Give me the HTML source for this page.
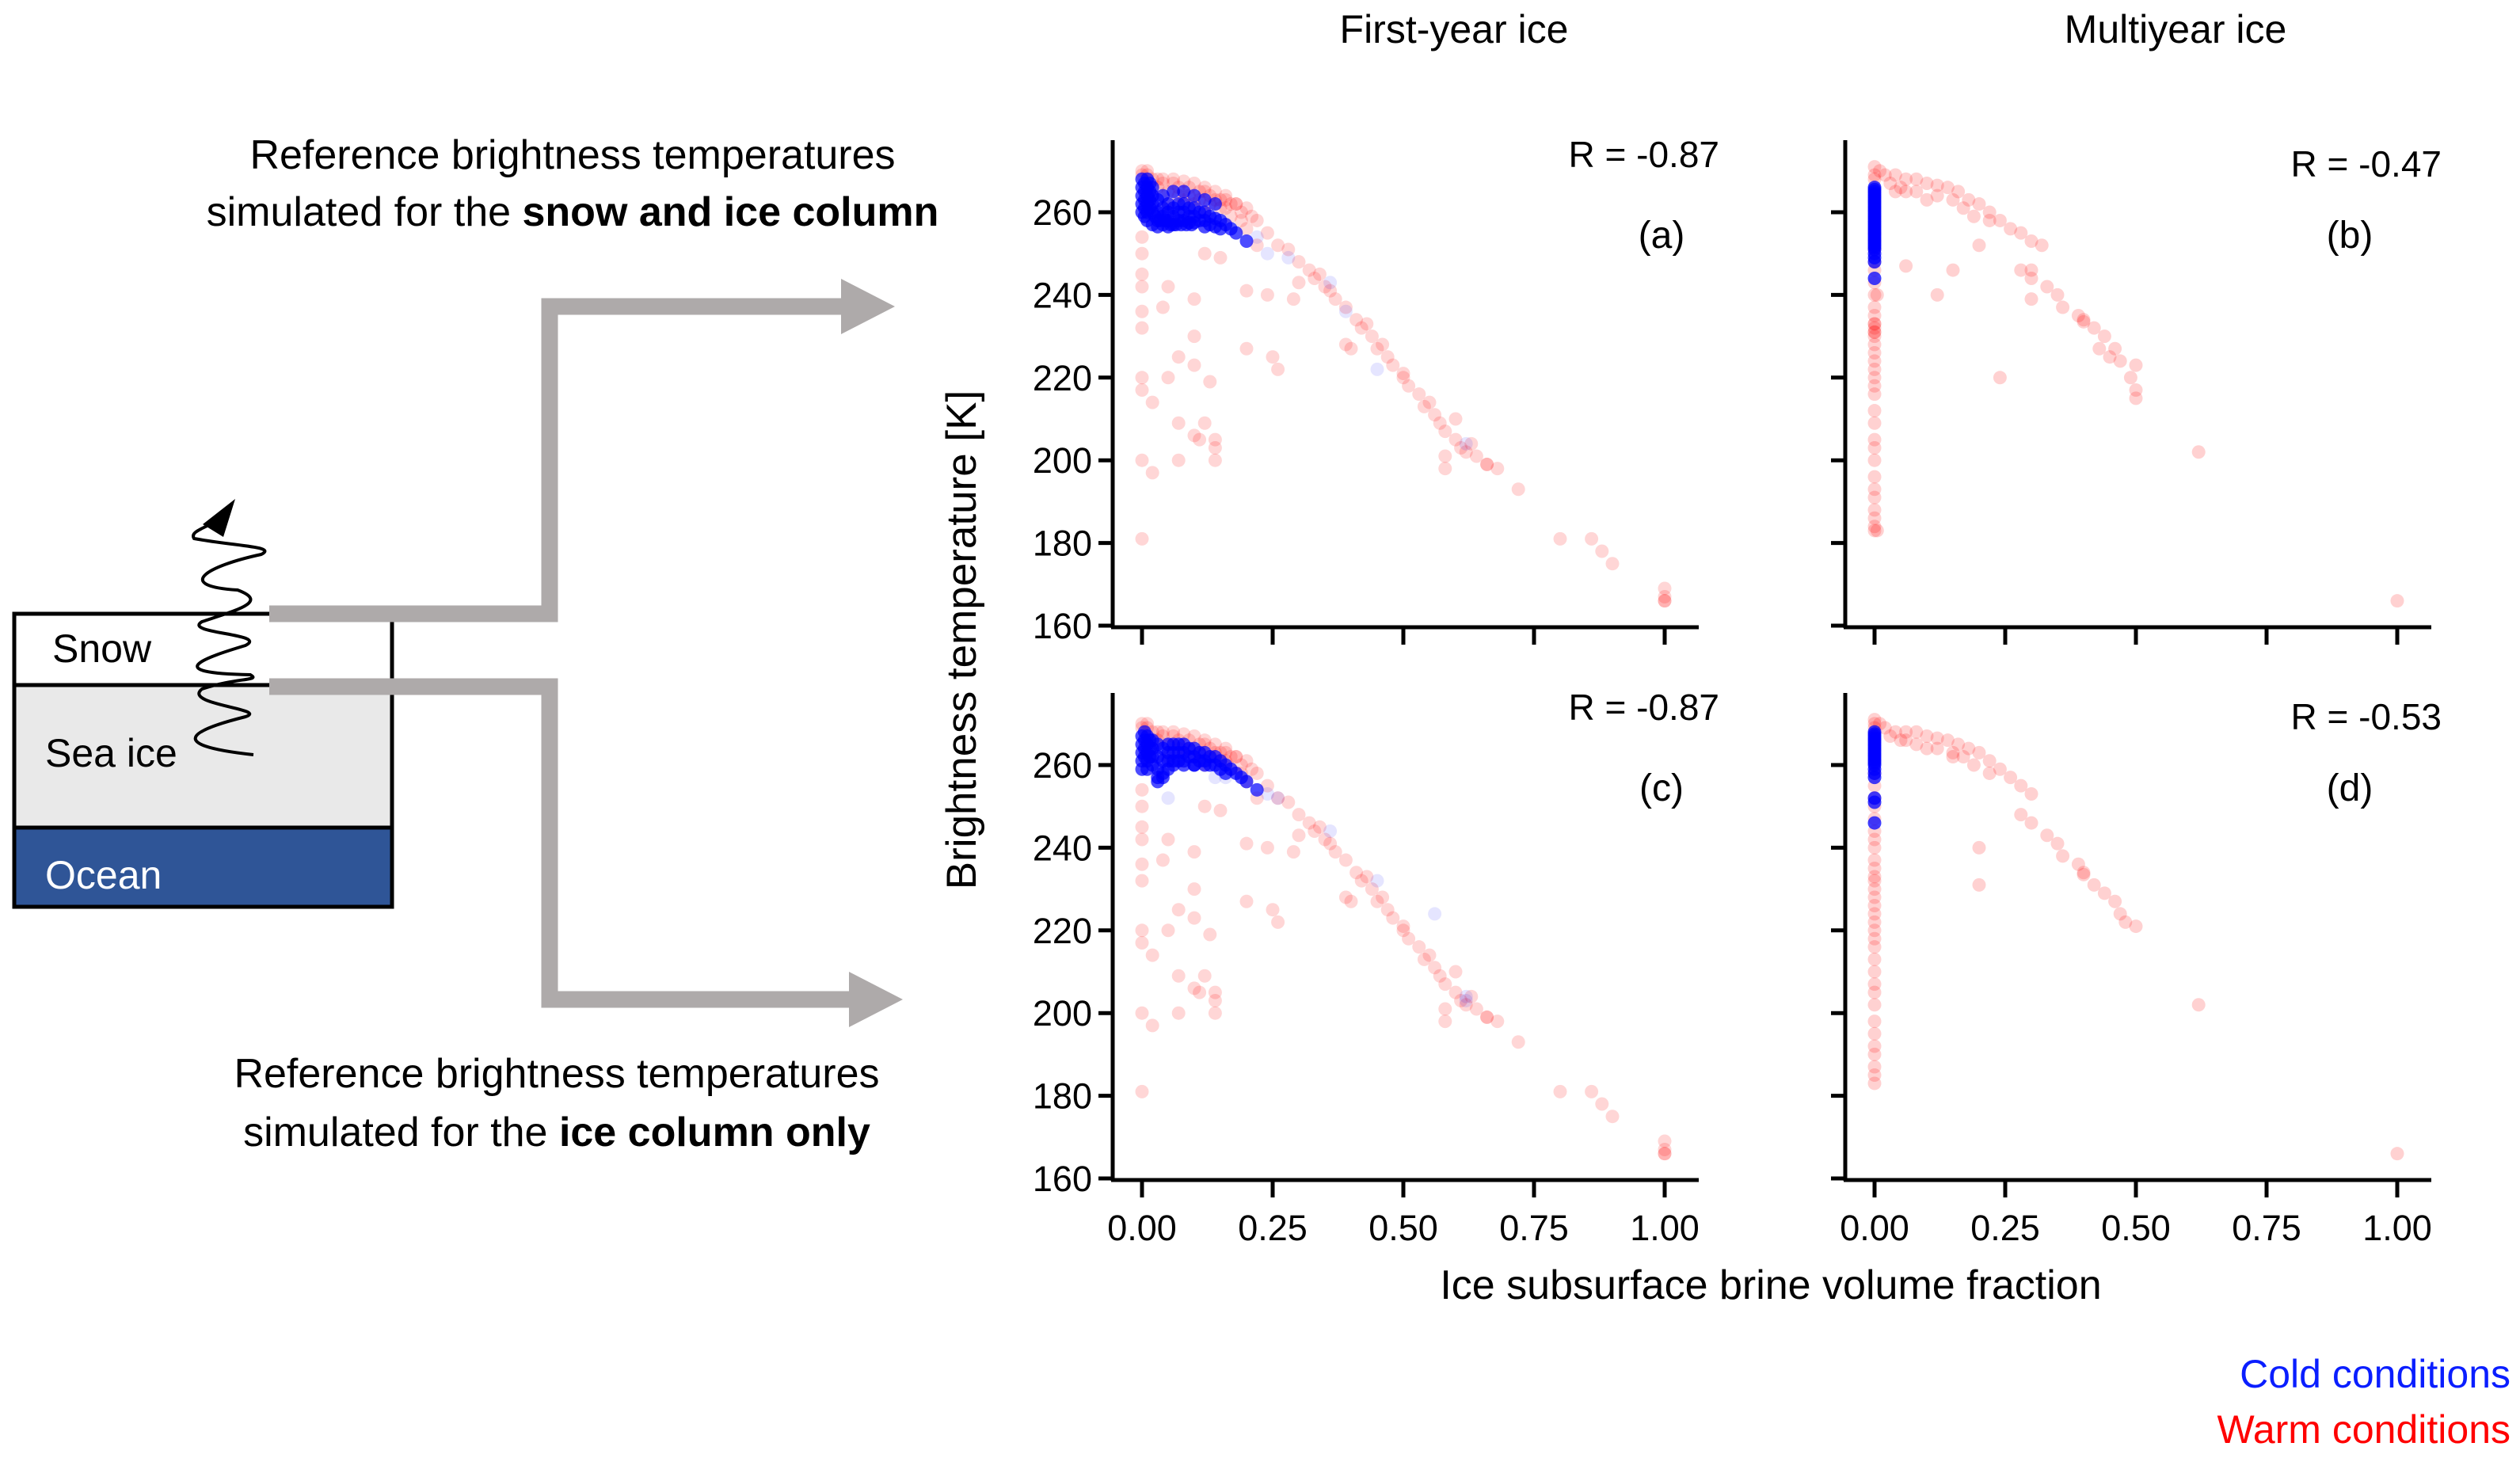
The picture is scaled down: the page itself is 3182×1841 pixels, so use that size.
<!DOCTYPE html>
<html><head><meta charset="utf-8"><style>
html,body{margin:0;padding:0;background:#fff;}
svg{display:block;font-family:"Liberation Sans",sans-serif;}
</style></head><body>
<svg id="fig" width="3182" height="1841" viewBox="0 0 3182 1841" xmlns="http://www.w3.org/2000/svg">
<g>
  <rect x="18" y="775" width="477" height="90" fill="#fff" stroke="#000" stroke-width="5"/>
  <rect x="18" y="865" width="477" height="180" fill="#e9e9e9" stroke="#000" stroke-width="5"/>
  <rect x="18" y="1045" width="477" height="100" fill="#2f5597" stroke="#000" stroke-width="5"/>
  <text x="66" y="836" font-size="50">Snow</text>
  <text x="57" y="968" font-size="50">Sea ice</text>
  <text x="57" y="1122" font-size="50" fill="#fff">Ocean</text>
  <path d="M320 953 C 200 940, 250 920, 310 905 C 340 895, 230 890, 255 870 C 300 855, 330 860, 316 852 C 200 850, 260 830, 310 815 C 340 800, 230 800, 255 785 C 300 770, 340 760, 300 745 C 220 740, 260 715, 330 700 C 350 690, 300 690, 245 680 C 240 672, 255 668, 265 662" fill="none" stroke="#000" stroke-width="4"/>
  <polygon points="297,630 282,678 256,662" fill="#000"/>
  <polyline points="340,775 694,775 694,387 1068,387" fill="none" stroke="#aeaaaa" stroke-width="21"/>
  <polygon points="1062,352 1130,387 1062,422" fill="#aeaaaa"/>
  <polyline points="340,867 694,867 694,1262 1078,1262" fill="none" stroke="#aeaaaa" stroke-width="21"/>
  <polygon points="1072,1227 1140,1262 1072,1297" fill="#aeaaaa"/>
  <text x="723" y="213" font-size="52" text-anchor="middle">Reference brightness temperatures</text>
  <text x="723" y="285" font-size="52" text-anchor="middle">simulated  for the <tspan font-weight="bold">snow and ice column</tspan></text>
  <text x="703" y="1373" font-size="52" text-anchor="middle">Reference brightness temperatures</text>
  <text x="703" y="1447" font-size="52" text-anchor="middle">simulated for the <tspan font-weight="bold">ice column only</tspan></text>
</g>
<text x="1836" y="54" font-size="50" text-anchor="middle">First-year ice</text>
<text x="2747" y="54" font-size="50" text-anchor="middle">Multiyear ice</text>
<text transform="translate(1232,808) rotate(-90)" font-size="53" text-anchor="middle">Brightness temperature [K]</text>
<text x="2236" y="1640" font-size="52" text-anchor="middle">Ice subsurface brine volume fraction</text>
<text x="3170" y="1752" font-size="50" text-anchor="end" fill="#0a1eff">Cold conditions</text>
<text x="3170" y="1822" font-size="50" text-anchor="end" fill="#ff0000">Warm conditions</text>
<g id="panels"></g>
</svg>
<script>
const yTicks = [160, 180, 200, 220, 240, 260];
const xTicks = [0, 0.25, 0.5, 0.75, 1.0];
const xTickLabels = ["0.00", "0.25", "0.50", "0.75", "1.00"];
const panelLetters = ["(a)", "(b)", "(c)", "(d)"];
const panelR = ["R = -0.87", "R = -0.47", "R = -0.87", "R = -0.53"];

const fyWarmX = [0,0.01,0.02,0.04,0.06,0.08,0.1,0.12,0.14,0.16,0.18,0.2,0.22,0.05,0.07,0.09,0.11,0.13,0.15,0.17,0.19,0.08,0.1,0.12,0.03,0.05,0.14,0.16,
0.2,0.24,0.26,0.28,0.3,0.32,0.33,0.35,0.37,0.39,0.41,0.42,0.44,0.45,0.47,0.48,0.5,0.51,0.53,0.54,0.56,0.57,0.58,0.6,0.61,0.62,0.64,0.66,0.68,0.72,0.8,0.86,0.88,0.9,1,1,1,1,
0,0,0,0,0,0,0,0,0,0,0.02,0.02,0.05,0.04,0.1,0.1,0.07,0.05,0.13,0.07,0.12,0.1,0.11,0.14,0.14,0.07,0.14,0.2,0.25,0.26,0.1,0.15,0.12,0.22,0.2,0.24,0.29,0.3,0.39,0.4,0.5,0.6,0.58,0.58,0.34,0.36,0.43,0.46,0.55,0.63,0.66,
0.04,0.06,0.09,0.11,0.13,0.15,0.17,0.19,0.21,0.03,0.07,0.12,0.16,0.18,0.01,0.0];
const fyWarmY = [269,269,268,268,268,267.5,267,266,265,264,262,261,258,265,264,264,263,262,261,259,258,263,262,260,266,262,263,261,
256,255,252,251,248,246,244,242,239,237,234,232,230,227,225,223,220,218,216,213,211,209,207,205,203,202,201,199,198,193,181,181,178,175,169,167,166,166,
254,250,245,242,236,232,220,217,200,181,214,197,242,237,239,230,225,220,219,209,209,206,205,205,203,200,200,227,225,222,223,249,250,252,241,240,239,243,228,227,221,210,198,201,245,241,233,228,214,204,199,
267,267,266,265,264,263,262,260,259,268,266,265,263,262,270,270];

const fyColdAX = [0,0,0,0,0,0.005,0.005,0.005,0.005,0.005,0.01,0.01,0.01,0.01,0.01,0.015,0.015,0.015,0.015,0.02,0.02,0.02,0.02,0.02,0.03,0.03,0.03,0.04,0.04,0.04,0.05,0.05,0.05,0.05,0.06,0.06,0.06,0.07,0.07,0.07,0.08,0.08,0.08,0.09,0.09,0.09,0.1,0.1,0.1,0.11,0.11,0.12,0.12,0.12,0.13,0.13,0.14,0.14,0.15,0.15,0.16,0.17,0.18,0.2,0.01,0.03,0.04,0.06,0.08,0.1,0.12,0.14,0.025,0.035,0.045,0.055,0.065,0.075,0.085,0.095];
const fyColdAY = [268,266,264,262,260,267,265,263,261,259,268,266,264,262,260,267,265,263,261,266,264,262,260,257,258,256.5,260,261,259,257,262,260,258,256.5,261,259,257,262,260,258,262,260,258,261,259,257.5,261,259,257.5,260,258,260,258,256.5,259,257,258.5,256.5,258,256,257,256,255,253,258,263,264,265,265,264,263,262,259,258,258,257,257,257,257,257];
const fyColdAFaintX = [0.22,0.24,0.28,0.36,0.45,0.62,0.39];
const fyColdAFaintY = [254,250,249,243,222,204,236];

const fyColdCX = [0,0,0,0,0,0.005,0.005,0.005,0.005,0.01,0.01,0.01,0.01,0.01,0.015,0.015,0.015,0.02,0.02,0.02,0.02,0.03,0.03,0.03,0.03,0.04,0.04,0.04,0.05,0.05,0.05,0.05,0.06,0.06,0.06,0.07,0.07,0.07,0.08,0.08,0.08,0.09,0.09,0.1,0.1,0.1,0.11,0.11,0.12,0.12,0.13,0.13,0.14,0.14,0.15,0.15,0.16,0.16,0.17,0.18,0.19,0.2,0.22,0.03,0.04,0.06,0.08,0.1,0.12];
const fyColdCY = [267,265,263,261,259,268,266,264,262,267,265,263,261,259,266,264,262,266,264,262,260,265,262,259,257,264,261,258,265,263,261,259,265,263,261,265,263,261,265,263,261,264,262,264,262,260,263,261,263,261,262,260,262,260,261,259,260,258,259,258,257,256,254,256,257,260,260,260,260];
const fyColdCFaintX = [0.05,0.24,0.26,0.36,0.45,0.56,0.62,0.62,0.16,0.14];
const fyColdCFaintY = [252,253,252,244,232,224,204,203,257,257];

const myWarmBX = [0,0,0,0.01,0.02,0.04,0.06,0.08,0.1,0.12,0.14,0.16,0.18,0.2,0.22,0.24,0.26,0.28,0.3,0.32,0.05,0.08,0.12,0.15,0.03,0.19,0.22,0.1,0.06,0.17,
0.28,0.3,0.33,0.35,0.36,0.3,0.39,0.4,0.4,0.42,0.44,0.46,0.43,0.45,0.47,0.5,0.49,0.5,0.5,0.62,1,0.12,0.06,0.15,0.2,0.04,0.24,0.3,
0,0,0,0,0,0,0,0,0,0,0,0,0,0,0,0,0,0,0,0,0,0,0,0,0,0,0,0,0,0,0,0,0,0,0.005,0.005];
const myWarmBY = [271,269,268,270,269,269,268,268,267,266.5,266,265,263,262,260,258,256,255,253,252,266,265,264,263,267,259,258,263,265,261,
246,244,242,240,237,239,235,234,233.5,232,230,227,227,225,224,223,220,217,215,202,166,240,247,246,252,265,220,246,
255,253,251,248,246,243,240,237,235,233,233,232,230,228,226,224,222,220,218,216,212,209,205,203,200,196,193,191,188,186,184,183,231,231,240,183];

const myColdBX = [0,0,0,0,0,0,0,0,0,0,0,0,0,0,0,0,0,0,0,0,0,0,0,0,0,0,0,0,0,0,0,0,0,0,0];
const myColdBY = [266,265.5,265,264.5,264,263.5,263,262.5,262,261.5,261,260.5,260,259.5,259,258.5,258,257.5,257,256.5,256,255.5,255,254.5,254,253.5,253,252.5,252,251.5,251,250,249,248,244];

const myWarmDX = [0,0,0,0.01,0.02,0.04,0.06,0.08,0.1,0.12,0.14,0.16,0.18,0.2,0.22,0.24,0.26,0.28,0.3,0.05,0.08,0.12,0.15,0.03,0.19,0.22,0.1,0.06,0.17,
0.28,0.3,0.33,0.35,0.36,0.39,0.4,0.4,0.42,0.44,0.46,0.47,0.5,0.48,0.62,1,0.15,0.2,0.2,
0,0,0,0,0,0,0,0,0,0,0,0,0,0,0,0,0,0,0,0,0,0,0,0,0,0,0,0,0,0,0,0];
const myWarmDY = [271,270,269,270,269,268,268,268,267,266.5,266,265,264,263,261,259,257,255,253,266,265,264,263,267,260,258,264,266,262,
248,246,243,241,238,236,234,233.5,231,229,227,224,221,222,202,166,262,240,231,
258,255,252,250,247,244,242,240,237,235,233,232,230,228,226,224,222,220,218,216,213,210,207,205,202,198,195,192,190,187,185,183];

const myColdDX = [0,0,0,0,0,0,0,0,0,0,0,0,0,0,0,0,0,0,0,0,0,0,0];
const myColdDY = [268,267.5,267,266.5,266,265.5,265,264.5,264,263.5,263,262.5,262,261.5,261,260.5,260,259,258,257,252,251,246];

const panels = [
  {x0:1405, top:177, y160:790, name:'panel-a', id:0},
  {x0:2330, top:177, y160:790, name:'panel-b', id:1},
  {x0:1405, top:875, y160:1488, name:'panel-c', id:2},
  {x0:2330, top:875, y160:1488, name:'panel-d', id:3}
];
const NS = 'http://www.w3.org/2000/svg';
const root = document.getElementById('panels');
function mk(tag, attrs, parent){ const e=document.createElementNS(NS,tag); for(const k in attrs) e.setAttribute(k,attrs[k]); parent.appendChild(e); return e; }

panels.forEach(p => {
  const g = mk('g', {}, root);
  
  
  const xs = v => p.x0 + 37 + v * 660;
  const ys = v => p.y160 - (v - 160) * 5.22;
  const right = p.x0 + 740;
  const ax = mk('line', {x1:p.x0, y1:p.top, x2:p.x0, y2:p.y160+3, stroke:'#000','stroke-width':5}, g);
  
  
  const bx = mk('line', {x1:p.x0-2, y1:p.y160+2, x2:right, y2:p.y160+2, stroke:'#000','stroke-width':5}, g);
  
  
  yTicks.forEach(t => {
    const tk = mk('line', {x1:p.x0-18, y1:ys(t), x2:p.x0, y2:ys(t), stroke:'#000','stroke-width':5}, g);
    
    
    if (p.id === 0 || p.id === 2) {
      const tl = mk('text', {x:p.x0-26, y:ys(t)+16, 'font-size':45, 'text-anchor':'end'}, g);
      tl.textContent = String(t);
      
      
    }
  });
  xTicks.forEach((t, i) => {
    const tk = mk('line', {x1:xs(t), y1:p.y160+2, x2:xs(t), y2:p.y160+24, stroke:'#000','stroke-width':5}, g);
    
    
    if (p.id >= 2) {
      const tl = mk('text', {x:xs(t), y:p.y160+78, 'font-size':45, 'text-anchor':'middle'}, g);
      tl.textContent = xTickLabels[i];
      
      
    }
  });
  const rt = mk('text', {x:p.x0 + (p.id%2 ? 753 : 766), y:p.top + (p.id%2 ? 46 : 34), 'font-size':46, 'text-anchor':'end'}, g);
  rt.textContent = panelR[p.id];
  
  
  const lt = mk('text', {x:p.x0 + (p.id%2 ? 637 : 693), y:p.top+136, 'font-size':48, 'text-anchor':'middle'}, g);
  lt.textContent = panelLetters[p.id];
  
  

  function scatter(X, Y, color, op, nm){
    for (let i=0;i<X.length;i++){
      const c = mk('circle', {cx:xs(X[i]), cy:ys(Y[i]), r:8.5, fill:color, 'fill-opacity':op}, g);
      
      
    }
  }
  if (p.id === 0) {
    scatter(fyWarmX, fyWarmY, '#ff0000', 0.16, 'warm-point');
    scatter(fyColdAX, fyColdAY, '#0000ff', 0.7, 'cold-point');
    scatter(fyColdAFaintX, fyColdAFaintY, '#0000ff', 0.1, 'cold-point');
  } else if (p.id === 2) {
    scatter(fyWarmX, fyWarmY, '#ff0000', 0.16, 'warm-point');
    scatter(fyColdCX, fyColdCY, '#0000ff', 0.7, 'cold-point');
    scatter(fyColdCFaintX, fyColdCFaintY, '#0000ff', 0.1, 'cold-point');
  } else if (p.id === 1) {
    scatter(myWarmBX, myWarmBY, '#ff0000', 0.18, 'warm-point');
    scatter(myColdBX, myColdBY, '#0000ff', 0.75, 'cold-point');
  } else {
    scatter(myWarmDX, myWarmDY, '#ff0000', 0.18, 'warm-point');
    scatter(myColdDX, myColdDY, '#0000ff', 0.75, 'cold-point');
  }
});
</script>
</body></html>
